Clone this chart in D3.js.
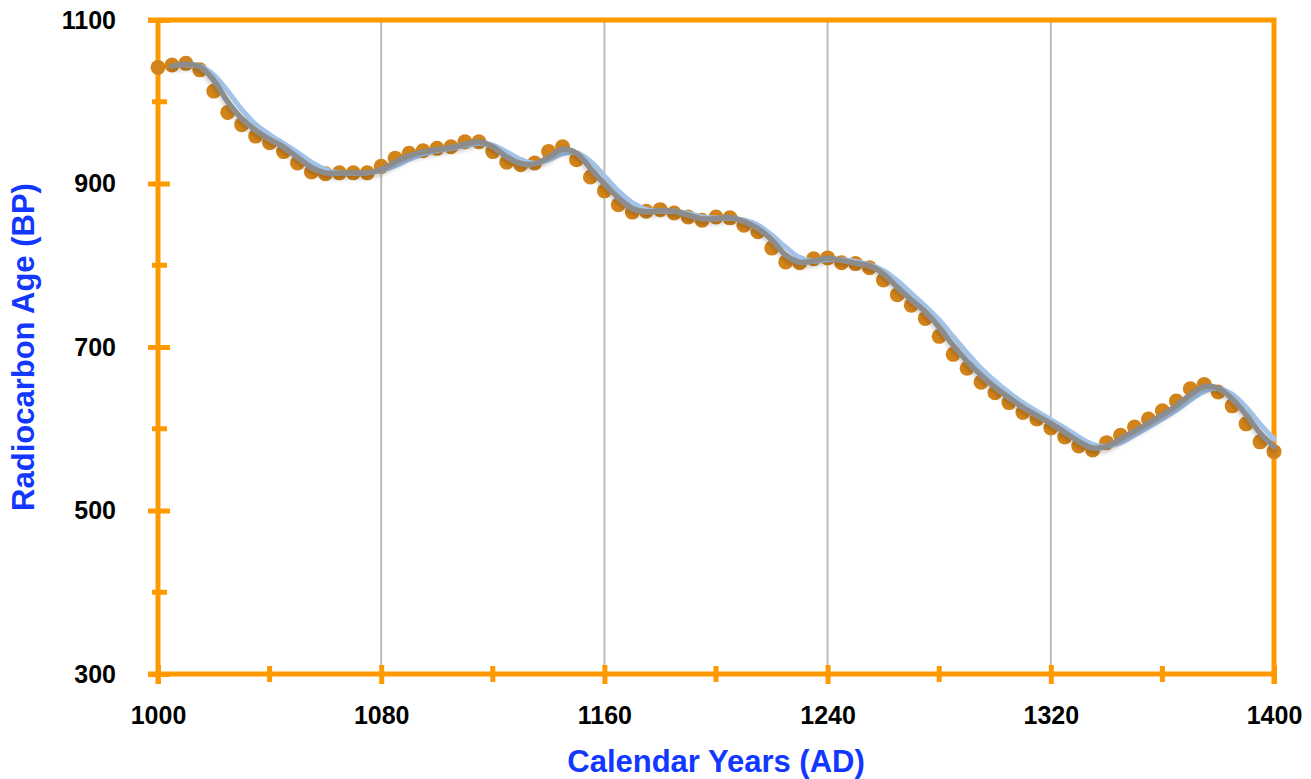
<!DOCTYPE html>
<html>
<head>
<meta charset="utf-8">
<script src="https://cdn.jsdelivr.net/npm/d3@7"></script>
<style>
  body { margin: 0; background: #ffffff; }
  text { font-family: "Liberation Sans", Arial, sans-serif; font-weight: bold; }
</style>
</head>
<body>
<div class="chart"></div>
<script>
//-----------------------------------------
// data
//-----------------------------------------
var years = [1000, 1005, 1010, 1015, 1020, 1025, 1030, 1035, 1040, 1045,
             1050, 1055, 1060, 1065, 1070, 1075, 1080, 1085, 1090, 1095,
             1100, 1105, 1110, 1115, 1120, 1125, 1130, 1135, 1140, 1145,
             1150, 1155, 1160, 1165, 1170, 1175, 1180, 1185, 1190, 1195,
             1200, 1205, 1210, 1215, 1220, 1225, 1230, 1235, 1240, 1245,
             1250, 1255, 1260, 1265, 1270, 1275, 1280, 1285, 1290, 1295,
             1300, 1305, 1310, 1315, 1320, 1325, 1330, 1335, 1340, 1345,
             1350, 1355, 1360, 1365, 1370, 1375, 1380, 1385, 1390, 1395,
             1400];

var ages = [1042, 1045, 1047, 1039, 1013, 987, 972, 958, 950, 939,
            925, 914, 912, 913, 913, 913, 921, 931, 937, 940,
            943, 945, 951, 951, 939, 926, 923, 925, 939, 945,
            929, 908, 891, 874, 865, 866, 868, 864, 859, 855,
            859, 858, 849, 841, 821, 804, 803, 808, 809, 803,
            802, 797, 782, 764, 751, 735, 713, 691, 674, 657,
            644, 632, 620, 612, 601, 590, 579, 574, 583, 592,
            602, 612, 622, 634, 649, 654, 645, 628, 606, 584,
            572];

var xTicks = [1000, 1080, 1160, 1240, 1320, 1400];
var xMinorTicks = [1040, 1120, 1200, 1280, 1360];
var yTicks = [300, 500, 700, 900, 1100];
var yMinorTicks = [400, 600, 800, 1000];

//-----------------------------------------
// setup
//-----------------------------------------
var svgWidth = 1311;
var svgHeight = 779;
var orange = "#ff9900";
var titleBlue = "#1238ff";

var svg = d3.select(".chart")
    .append("svg")
    .attr("width", svgWidth)
    .attr("height", svgHeight);

var xScale = d3.scaleLinear().domain([1000, 1400]).range([158, 1274]);
var yScale = d3.scaleLinear().domain([300, 1100]).range([674, 20]);

// soft shadow under the grey trend line
var defs = svg.append("defs");
defs.append("filter")
    .attr("id", "shadow")
    .attr("x", "-5%").attr("y", "-20%")
    .attr("width", "110%").attr("height", "140%")
    .append("feDropShadow")
    .attr("dx", 0).attr("dy", 3)
    .attr("stdDeviation", 2)
    .attr("flood-color", "#000")
    .attr("flood-opacity", 0.22);

// vertical gridlines
svg.append("g")
    .selectAll("line")
    .data(xTicks.slice(1, -1))
    .enter()
    .append("line")
    .attr("x1", d => xScale(d)).attr("x2", d => xScale(d))
    .attr("y1", yScale(1100)).attr("y2", yScale(300))
    .attr("stroke", "#bdbdbd")
    .attr("stroke-width", 2);

//-----------------------------------------
// axes and frame
//-----------------------------------------
// top and right border
svg.append("path")
    .attr("d", `M148,${yScale(1100)}H${xScale(1400)}V${yScale(300) + 10}`)
    .attr("fill", "none")
    .attr("stroke", orange)
    .attr("stroke-width", 5);

var yAxis = svg.append("g")
    .attr("transform", `translate(${xScale(1000)},0)`)
    .call(d3.axisLeft(yScale).tickValues(yTicks).tickFormat(d3.format("d"))
        .tickSize(10).tickSizeOuter(0).tickPadding(32));
yAxis.select(".domain").attr("stroke", orange).attr("stroke-width", 5)
    .attr("d", `M0,${yScale(1100)}V${yScale(300) + 10}`);
yAxis.selectAll(".tick line").attr("stroke", orange).attr("stroke-width", 5).attr("x1", 12);
yAxis.selectAll(".tick text").attr("fill", "#000").style("font-size", "25px");

svg.append("g")
    .selectAll("line")
    .data(yMinorTicks)
    .enter()
    .append("line")
    .attr("x1", xScale(1000) - 6).attr("x2", xScale(1000) + 9)
    .attr("y1", d => yScale(d)).attr("y2", d => yScale(d))
    .attr("stroke", orange)
    .attr("stroke-width", 5);

var xAxis = svg.append("g")
    .attr("transform", `translate(0,${yScale(300)})`)
    .call(d3.axisBottom(xScale).tickValues(xTicks).tickFormat(d3.format("d"))
        .tickSize(10).tickSizeOuter(0).tickPadding(22));
xAxis.select(".domain").attr("stroke", orange).attr("stroke-width", 5)
    .attr("d", `M148,0H${xScale(1400)}`);
xAxis.selectAll(".tick line").attr("stroke", orange).attr("stroke-width", 5).attr("y1", -9);
xAxis.selectAll(".tick text").attr("fill", "#000").style("font-size", "25px");

svg.append("g")
    .selectAll("line")
    .data(xMinorTicks)
    .enter()
    .append("line")
    .attr("x1", d => xScale(d)).attr("x2", d => xScale(d))
    .attr("y1", yScale(300) - 8).attr("y2", yScale(300) + 8)
    .attr("stroke", orange)
    .attr("stroke-width", 5);

// axis titles
svg.append("text")
    .attr("x", (xScale(1000) + xScale(1400)) / 2)
    .attr("y", 772)
    .attr("text-anchor", "middle")
    .attr("fill", titleBlue)
    .style("font-size", "31px")
    .text("Calendar Years (AD)");

svg.append("text")
    .attr("transform", `translate(34,${(yScale(300) + yScale(1100)) / 2}) rotate(-90)`)
    .attr("text-anchor", "middle")
    .attr("fill", titleBlue)
    .style("font-size", "31px")
    .text("Radiocarbon Age (BP)");

//-----------------------------------------
// points and trend lines
//-----------------------------------------
var data = years.map((y, i) => ({ year: y, age: ages[i] }));

svg.append("g")
    .selectAll("circle")
    .data(data)
    .enter()
    .append("circle")
    .attr("cx", d => xScale(d.year))
    .attr("cy", d => yScale(d.age))
    .attr("r", 7.5)
    .attr("fill", "#d2841a");

// moving average trendline, plotted at the last point of each window
function movingAverage(n) {
    var out = [];
    for (var i = n - 1; i < data.length; i++) {
        out.push({ year: data[i].year, age: d3.mean(data.slice(i - n + 1, i + 1), d => d.age) });
    }
    return out;
}

var line = d3.line()
    .x(d => xScale(d.year))
    .y(d => yScale(d.age))
    .curve(d3.curveCatmullRom.alpha(0.5));

svg.append("path")
    .datum(movingAverage(3))
    .attr("d", line)
    .attr("fill", "none")
    .attr("stroke", "#a3c4e8")
    .attr("stroke-width", 5)
    .attr("stroke-linecap", "round");

svg.append("path")
    .datum(movingAverage(2))
    .attr("d", line)
    .attr("fill", "none")
    .attr("stroke", "#8c8c8c")
    .attr("stroke-width", 5.5)
    .attr("stroke-linecap", "round")
    .attr("filter", "url(#shadow)");
</script>
</body>
</html>
